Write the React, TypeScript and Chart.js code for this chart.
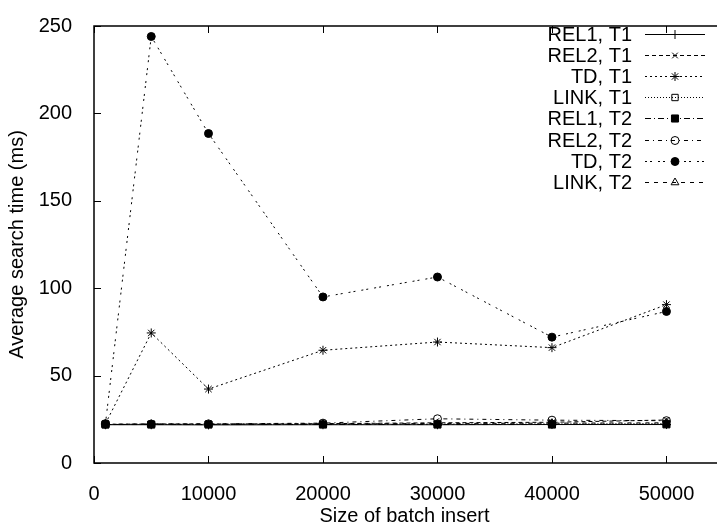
import React, { useEffect, useRef } from 'react';
import { Chart, registerables } from 'chart.js';
import { drawPoint } from 'chart.js/helpers';

Chart.register(...registerables);

// ---- data ----
const xValues = [1000, 5000, 10000, 20000, 30000, 40000, 50000];
const xTicks = [0, 10000, 20000, 30000, 40000, 50000];
const yTicks = [0, 50, 100, 150, 200, 250];

const rel1T1 = [21.9, 21.9, 21.8, 21.9, 21.9, 22.0, 22.0];
const rel2T1 = [22.1, 22.4, 22.3, 22.5, 23.0, 23.3, 24.6];
const tdT1 = [22.5, 74.4, 42.3, 64.5, 69.2, 66.0, 90.6];
const linkT1 = [22.0, 22.1, 22.1, 22.2, 22.3, 22.4, 22.6];
const rel1T2 = [22.0, 22.0, 22.0, 22.0, 22.0, 22.0, 22.1];
const rel2T2 = [22.2, 22.3, 22.4, 22.8, 25.3, 24.5, 24.2];
const tdT2 = [22.5, 244.0, 188.5, 95.0, 106.4, 72.0, 86.7];
const linkT2 = [22.0, 22.2, 22.1, 22.3, 22.6, 22.8, 23.0];

const seriesLabels = ['REL1, T1', 'REL2, T1', 'TD, T1', 'LINK, T1', 'REL1, T2', 'REL2, T2', 'TD, T2', 'LINK, T2'];
const seriesValues = [rel1T1, rel2T1, tdT1, linkT1, rel1T2, rel2T2, tdT2, linkT2];

const xTitle = 'Size of batch insert';
const yTitle = 'Average search time (ms)';

// ---- styles ----
const FONT_FAMILY = '"Liberation Sans", Arial, Helvetica, sans-serif';
const FONT_SIZE = 20;
const seriesStyles = [
  { pointStyle: 'cross', filled: false, dash: [] as number[], radius: 4.5 },
  { pointStyle: 'crossRot', filled: false, dash: [4, 3], radius: 4 },
  { pointStyle: 'star', filled: false, dash: [2, 3], radius: 4.5 },
  { pointStyle: 'rect', filled: false, dash: [1, 2], radius: 4.5 },
  { pointStyle: 'rect', filled: true, dash: [6, 3, 1, 3], radius: 5 },
  { pointStyle: 'circle', filled: false, dash: [4, 4, 1, 4], radius: 4 },
  { pointStyle: 'circle', filled: true, dash: [2, 3, 2, 6], radius: 4 },
  { pointStyle: 'triangle', filled: false, dash: [4, 5], radius: 4.5 },
];

const framePlugin = {
  id: 'gnuFrame',
  afterDraw(chart: any) {
    const { ctx, chartArea: a, scales } = chart;
    const xs = scales.x;
    const ys = scales.y;
    ctx.save();
    ctx.strokeStyle = '#000';
    ctx.setLineDash([]);
    // frame
    ctx.lineWidth = 1.5;
    ctx.beginPath();
    ctx.moveTo(a.right + 2, a.top);
    ctx.lineTo(a.left, a.top);
    ctx.lineTo(a.left, a.bottom);
    ctx.lineTo(a.right + 2, a.bottom);
    ctx.stroke();
    // inward ticks
    ctx.lineWidth = 1;
    ctx.beginPath();
    for (const v of xTicks) {
      const px = Math.round(xs.getPixelForValue(v)) + 0.5;
      ctx.moveTo(px, a.bottom);
      ctx.lineTo(px, a.bottom - 7);
      ctx.moveTo(px, a.top);
      ctx.lineTo(px, a.top + 7);
    }
    for (const v of yTicks) {
      const py = Math.round(ys.getPixelForValue(v)) + 0.5;
      ctx.moveTo(a.left, py);
      ctx.lineTo(a.left + 7, py);
    }
    ctx.stroke();

    // key (legend)
    const textRight = 632;
    const lineStart = 645;
    const lineEnd = 705;
    const rowTop = 33.5;
    const rowStep = 21.2;
    ctx.font = `${FONT_SIZE}px ${FONT_FAMILY}`;
    ctx.textAlign = 'right';
    ctx.textBaseline = 'middle';
    chart.data.datasets.forEach((ds: any, i: number) => {
      const y = Math.round(rowTop + i * rowStep) + 0.5;
      ctx.fillStyle = '#000';
      ctx.fillText(ds.label, textRight, y + 1);
      ctx.strokeStyle = '#000';
      ctx.lineWidth = 1;
      ctx.setLineDash(ds.borderDash || []);
      ctx.beginPath();
      ctx.moveTo(lineStart, y);
      ctx.lineTo(lineEnd, y);
      ctx.stroke();
      ctx.setLineDash([]);
      ctx.fillStyle = ds.pointBackgroundColor;
      ctx.strokeStyle = '#000';
      ctx.lineWidth = 1;
      drawPoint(ctx, { pointStyle: ds.pointStyle, radius: ds.pointRadius, borderWidth: 1, rotation: 0 } as any, (lineStart + lineEnd) / 2, y);
    });
    ctx.restore();
  },
};

export default function App() {
  const canvasRef = useRef<HTMLCanvasElement | null>(null);

  useEffect(() => {
    const canvas = canvasRef.current;
    if (!canvas) return;
    const font = { family: FONT_FAMILY, size: FONT_SIZE };
    const chart = new Chart(canvas, {
      type: 'line',
      data: {
        datasets: seriesLabels.map((label, i) => {
          const st = seriesStyles[i];
          return {
            label,
            data: xValues.map((x, j) => ({ x, y: seriesValues[i][j] })),
            borderColor: '#000',
            borderWidth: 1,
            borderDash: st.dash,
            pointStyle: st.pointStyle as any,
            pointRadius: st.radius,
            pointBorderWidth: 1,
            pointBorderColor: '#000',
            pointBackgroundColor: st.filled ? '#000' : 'rgba(0,0,0,0)',
            fill: false,
            tension: 0,
          };
        }),
      },
      options: {
        responsive: false,
        animation: false,
        events: [],
        layout: { padding: { top: 16, right: 0, left: 0, bottom: 0 } },
        plugins: {
          legend: { display: false },
          tooltip: { enabled: false },
        },
        scales: {
          x: {
            type: 'linear',
            min: 0,
            max: 54240,
            afterBuildTicks: (s: any) => {
              s.ticks = xTicks.map((v) => ({ value: v }));
            },
            afterFit: (s: any) => {
              s.height = 69;
            },
            ticks: {
              callback: (v: any) => String(v),
              font,
              color: '#000',
              padding: 11,
              maxRotation: 0,
              autoSkip: false,
            },
            grid: { display: false },
            border: { display: false },
            title: {
              display: true,
              text: xTitle,
              font,
              color: '#000',
              padding: { top: 0, bottom: 4 },
            },
          },
          y: {
            type: 'linear',
            min: 0,
            max: 250,
            afterBuildTicks: (s: any) => {
              s.ticks = yTicks.map((v) => ({ value: v }));
            },
            afterFit: (s: any) => {
              s.width = 94;
            },
            ticks: {
              callback: (v: any) => String(v),
              font,
              color: '#000',
              padding: 14,
              autoSkip: false,
            },
            grid: { display: false },
            border: { display: false },
            title: {
              display: true,
              text: yTitle,
              font,
              color: '#000',
              padding: { top: 5, bottom: 0 },
            },
          },
        },
      },
      plugins: [framePlugin],
    } as any);
    return () => chart.destroy();
  }, []);

  return (
    <div style={{ position: 'absolute', left: 0, top: 0, width: 721, height: 532, background: '#fff' }}>
      <canvas ref={canvasRef} width={721} height={532} style={{ display: 'block' }} />
    </div>
  );
}
